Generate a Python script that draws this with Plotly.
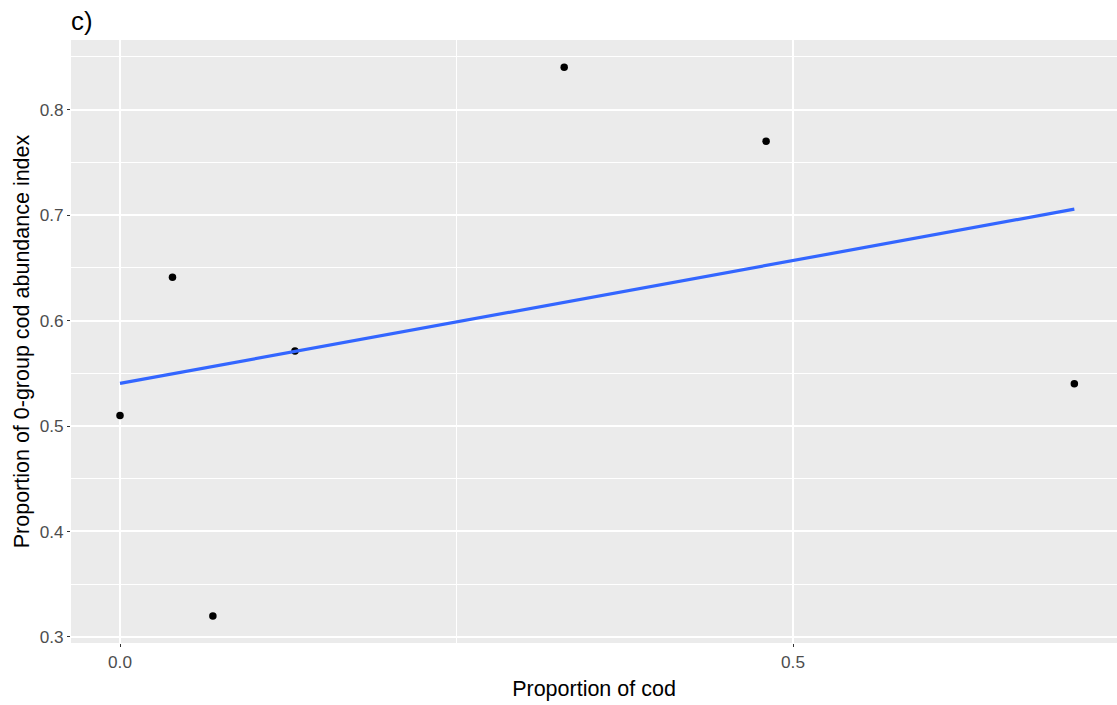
import numpy as np
import plotly.graph_objects as go

# Observed proportions
prop_cod = [0.0, 0.039, 0.069, 0.130, 0.330, 0.480, 0.709]
prop_0group = [0.510, 0.641, 0.320, 0.571, 0.840, 0.770, 0.540]

x_ticks = [0.0, 0.5]
x_tick_labels = ["0.0", "0.5"]
y_ticks = [0.3, 0.4, 0.5, 0.6, 0.7, 0.8]
y_tick_labels = ["0.3", "0.4", "0.5", "0.6", "0.7", "0.8"]

# Linear model fit (geom_smooth(method = "lm", se = FALSE) equivalent)
slope, intercept = np.polyfit(prop_cod, prop_0group, 1)
fit_x = np.linspace(min(prop_cod), max(prop_cod), 80)
fit_y = intercept + slope * fit_x

FONT = "Liberation Sans, Arial, sans-serif"
BASE = 21.5

fig = go.Figure()
fig.add_trace(go.Scatter(
    x=prop_cod, y=prop_0group, mode="markers",
    marker=dict(color="black", size=7.5),
    showlegend=False, hoverinfo="x+y",
))
fig.add_trace(go.Scatter(
    x=fit_x, y=fit_y, mode="lines",
    line=dict(color="#3366FF", width=3.2),
    showlegend=False, hoverinfo="skip",
))

axis_common = dict(
    showline=False, zeroline=False,
    showgrid=True, gridcolor="white", gridwidth=1.8,
    ticks="outside", ticklen=3, tickwidth=1.2, tickcolor="#333333",
    tickfont=dict(family=FONT, size=BASE * 0.8, color="#4D4D4D"),
)

fig.update_layout(
    width=1117, height=705,
    margin=dict(l=71, r=0, t=40, b=62),
    paper_bgcolor="white", plot_bgcolor="#EBEBEB",
    font=dict(family=FONT),
    xaxis=dict(
        **axis_common,
        range=[-0.0364, 0.7407],
        tickmode="array", tickvals=x_ticks, ticktext=x_tick_labels,
        minor=dict(tick0=0.25, dtick=0.5, showgrid=True,
                   gridcolor="white", gridwidth=1.0, ticks=""),
        title=dict(text="Proportion of cod", standoff=10,
                   font=dict(family=FONT, size=BASE, color="black")),
    ),
    yaxis=dict(
        **axis_common,
        range=[0.2943, 0.8659],
        tickmode="array", tickvals=y_ticks, ticktext=y_tick_labels,
        minor=dict(tick0=0.25, dtick=0.1, showgrid=True,
                   gridcolor="white", gridwidth=1.0, ticks=""),
        title=dict(text="Proportion of 0-group cod abundance index", standoff=4,
                   font=dict(family=FONT, size=BASE, color="black")),
    ),
    annotations=[dict(
        text="c)", xref="paper", yref="paper", x=0, y=1,
        xanchor="left", yanchor="bottom", yshift=3, xshift=-2, showarrow=False,
        font=dict(family=FONT, size=BASE * 1.2, color="black"),
    )],
)

fig.write_html("out.html")
